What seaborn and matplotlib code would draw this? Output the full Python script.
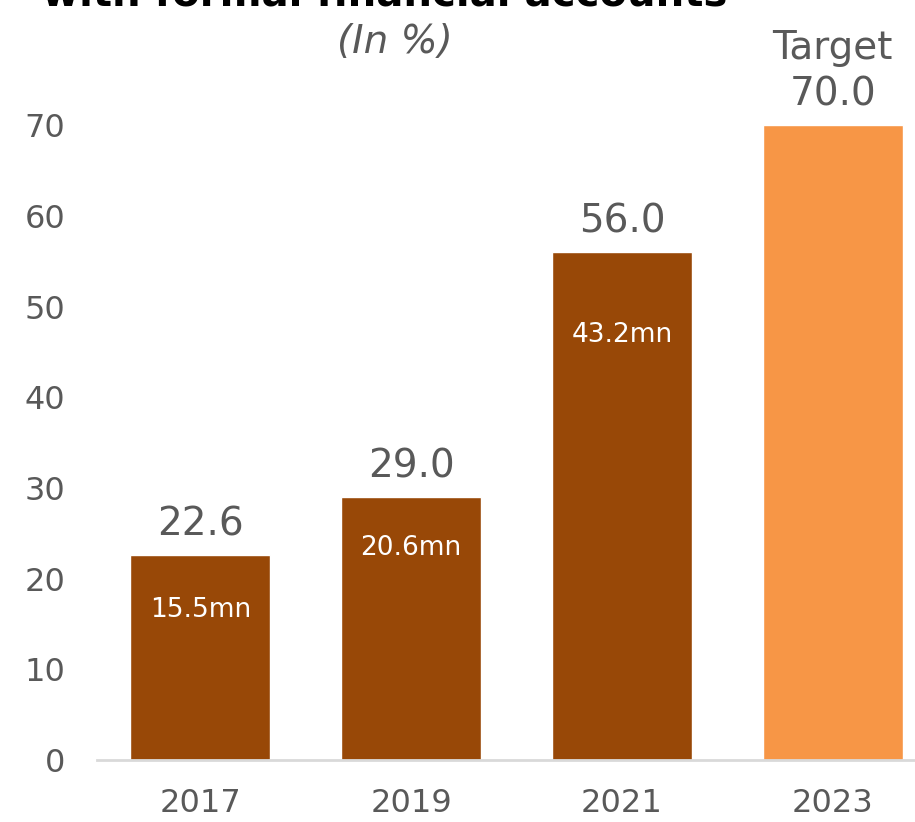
import matplotlib
matplotlib.use("Agg")
import matplotlib.pyplot as plt
import seaborn as sns
import pandas as pd

# ── DATA ──────────────────────────────────────────────────
years = ["2017", "2019", "2021", "2023"]
share_pct = [22.6, 29.0, 56.0, 70.0]
accounts = ["15.5mn", "20.6mn", "43.2mn", ""]
value_labels = ["22.6", "29.0", "56.0", "Target\n70.0"]
yticks = [0, 10, 20, 30, 40, 50, 60, 70]

GREY = "#595959"
BROWN = "#984807"
ORANGE = "#F79646"

sns.set_theme(style="white")
plt.rcParams["font.family"] = ["DejaVu Sans"]

df = pd.DataFrame({"year": years, "share": share_pct})

fig = plt.figure(figsize=(9.15, 8.22), dpi=100)
ax = fig.add_axes([97 / 915, 62 / 822, 818 / 915, 760 / 822])

sns.barplot(data=df, x="year", y="share", hue="year", legend=False,
            palette=[BROWN, BROWN, BROWN, ORANGE], width=0.665,
            saturation=1, ax=ax)

ax.set_xlim(-0.49, 3.39)
ax.set_ylim(0, 83.8)
ax.set_yticks(yticks)
ax.set_xlabel("")
ax.set_ylabel("")
ax.tick_params(axis="both", length=0, colors=GREY, labelsize=23)
ax.tick_params(axis="x", pad=20)
ax.tick_params(axis="y", pad=23)
for s in ["top", "right", "left"]:
    ax.spines[s].set_visible(False)
ax.spines["bottom"].set_color("#D9D9D9")
ax.spines["bottom"].set_linewidth(2)

# value labels above bars
for i, (v, lab) in enumerate(zip(share_pct, value_labels)):
    ax.annotate(lab, (i, v), xytext=(0, 14), textcoords="offset points",
                ha="center", va="baseline", fontsize=28, color=GREY,
                linespacing=1.3)

# account counts inside bars
inner_y = [16.5, 23.4, 46.9]
for i, (lab, y) in enumerate(zip(accounts[:3], inner_y)):
    ax.text(i, y, lab, ha="center", va="center", fontsize=19, color="white")

# title (cropped at the top edge, as in the source image)
fig.text(385 / 915, 1 - 6 / 822, "with formal financial accounts",
         ha="center", va="baseline", fontsize=29, fontweight="bold", color="black")
fig.text(395 / 915, 1 - 42 / 822, "(In %)", ha="center", va="center",
         fontsize=28, style="italic", color=GREY)

fig.savefig("out.png", dpi=100)
